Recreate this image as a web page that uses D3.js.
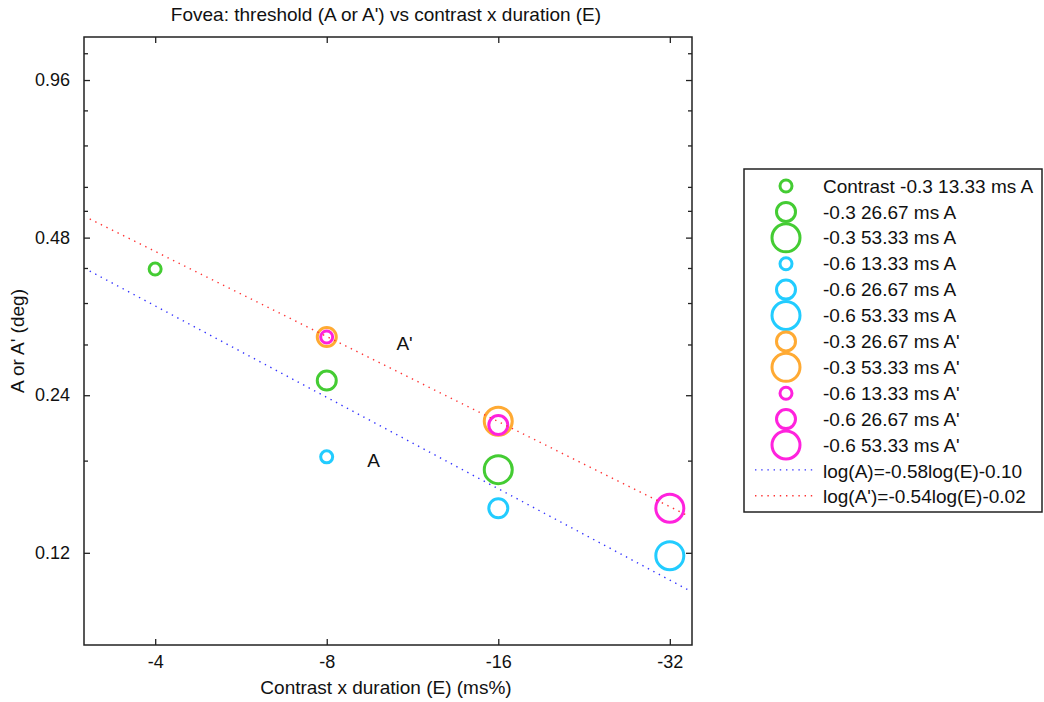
<!DOCTYPE html>
<html>
<head>
<meta charset="utf-8">
<script src="https://cdn.jsdelivr.net/npm/d3@7"></script>
<style>
  html, body { margin: 0; padding: 0; background: #fff; }
  svg { display: block; font-family: "Liberation Sans", Arial, sans-serif; }
</style>
</head>
<body>
<svg id="chart" width="1044" height="702"></svg>
<script>
// Threshold measurements at the fovea
const durations = [13.33, 26.67, 53.33];          // ms
const contrastsA = [-0.3, -0.3, -0.3, -0.6, -0.6, -0.6];
const durationsA = [13.33, 26.67, 53.33, 13.33, 26.67, 53.33];
const thresholdA = [0.418, 0.256, 0.173, 0.183, 0.146, 0.1185];   // deg

const contrastsAp = [-0.3, -0.3, -0.6, -0.6, -0.6];
const durationsAp = [26.67, 53.33, 13.33, 26.67, 53.33];
const thresholdAp = [0.310, 0.214, 0.310, 0.2105, 0.146];        // deg

// Power-law fits: log(T) = slope*log(E) + intercept
const fitNames = ["log(A)=-0.58log(E)-0.10", "log(A')=-0.54log(E)-0.02"];
const fitSlopes = [-0.58, -0.54];
const fitIntercepts = [-0.10, -0.02];
const fitRange = [3.07, 34.4];                   // |E| span of the fitted lines

const xTicks = [4, 8, 16, 32];                   // |E|, labelled negative
const yTicks = [0.12, 0.24, 0.48, 0.96];
const yMinorTicks = [0.18, 0.30, 0.36, 0.42, 0.54, 0.60, 0.72, 0.84, 1.08];

const annotations = [
  { text: "A'", e: 10.6, v: 0.302 },
  { text: "A",  e: 9.42, v: 0.1805 }
];

const colorOf = { "-0.3A": "#44cc33", "-0.6A": "#22ccff", "-0.3A'": "#ffaa33", "-0.6A'": "#ff22dd" };
const radiusOf = d3.scaleOrdinal().domain(durations).range([6, 9.5, 14]);

// build the marker list in legend order
const series = [];
contrastsA.forEach((c, i) => series.push({ c, dur: durationsA[i], v: thresholdA[i], kind: "A" }));
contrastsAp.forEach((c, i) => series.push({ c, dur: durationsAp[i], v: thresholdAp[i], kind: "A'" }));
series.forEach(d => { d.e = Math.abs(d.c * d.dur); d.color = colorOf[d.c + d.kind]; });

const svg = d3.select("#chart");
const M = { left: 84, right: 692, top: 37, bottom: 645 };
const FS = 19;      // titles, labels, legend
const TFS = 18;     // tick labels

const x = d3.scaleLog().domain([3, 35]).range([M.left, M.right]);
const y = d3.scaleLog().domain([0.08, 1.16]).range([M.bottom, M.top]);

// title and axis labels
svg.append("text").attr("x", (M.left + M.right) / 2 - 2).attr("y", 21)
  .attr("text-anchor", "middle").attr("font-size", FS).attr("fill", "#111")
  .text("Fovea: threshold (A or A') vs contrast x duration (E)");
svg.append("text").attr("x", (M.left + M.right) / 2 - 2).attr("y", 694)
  .attr("text-anchor", "middle").attr("font-size", FS).attr("fill", "#111")
  .text("Contrast x duration (E) (ms%)");
svg.append("text")
  .attr("transform", `translate(24,${(M.top + M.bottom) / 2}) rotate(-90)`)
  .attr("text-anchor", "middle").attr("font-size", FS).attr("fill", "#111")
  .text("A or A' (deg)");

// axes with inward ticks
function styleAxis(g) {
  g.select(".domain").remove();
  g.selectAll("line").attr("stroke", "#222").attr("stroke-width", 1.3);
  g.selectAll("text").attr("font-size", TFS).attr("fill", "#111")
    .attr("font-family", "Liberation Sans, Arial, sans-serif");
}
svg.append("g").attr("transform", `translate(0,${M.bottom})`)
  .call(d3.axisBottom(x).tickValues(xTicks).tickSize(-6).tickPadding(10).tickFormat(d => "-" + d))
  .call(styleAxis);
svg.append("g").attr("transform", `translate(0,${M.top})`)
  .call(d3.axisTop(x).tickValues(xTicks).tickSize(-6).tickFormat(""))
  .call(styleAxis);
svg.append("g").attr("transform", `translate(${M.left},0)`)
  .call(d3.axisLeft(y).tickValues(yTicks).tickSize(-6).tickPadding(14).tickFormat(d3.format(".2f")))
  .call(styleAxis);
svg.append("g").attr("transform", `translate(${M.left},0)`)
  .call(d3.axisLeft(y).tickValues(yMinorTicks).tickSize(-4).tickFormat(""))
  .call(styleAxis);
svg.append("g").attr("transform", `translate(${M.right},0)`)
  .call(d3.axisRight(y).tickValues(yTicks).tickSize(-6).tickFormat(""))
  .call(styleAxis);
svg.append("g").attr("transform", `translate(${M.right},0)`)
  .call(d3.axisRight(y).tickValues(yMinorTicks).tickSize(-4).tickFormat(""))
  .call(styleAxis);

svg.append("rect").attr("x", M.left).attr("y", M.top)
  .attr("width", M.right - M.left).attr("height", M.bottom - M.top)
  .attr("fill", "none").attr("stroke", "#222").attr("stroke-width", 1.5);

// data markers
const plot = svg.append("g");
plot.selectAll("circle").data(series).join("circle")
  .attr("cx", d => x(d.e)).attr("cy", d => y(d.v))
  .attr("r", d => radiusOf(d.dur))
  .attr("fill", "none").attr("stroke", d => d.color).attr("stroke-width", 3);

// fitted lines (dotted)
const fitColors = ["#3333ff", "#ff3333"];
const fitLines = fitSlopes.map((s, i) => fitRange.map(e => [e, Math.pow(10, s * Math.log10(e) + fitIntercepts[i])]));
const line = d3.line().x(d => x(d[0])).y(d => y(d[1]));
plot.selectAll("path.fit").data(fitLines).join("path").attr("class", "fit")
  .attr("d", line).attr("fill", "none")
  .attr("stroke", (d, i) => fitColors[i]).attr("stroke-width", 1.4)
  .attr("stroke-dasharray", "1.4 4.8");

// in-plot labels
svg.selectAll("text.note").data(annotations).join("text").attr("class", "note")
  .attr("x", d => x(d.e)).attr("y", d => y(d.v)).attr("dy", "0.35em")
  .attr("font-size", FS).attr("fill", "#111").text(d => d.text);

// legend
const L = { x: 744, y: 169, w: 298, h: 343, row0: 186, step: 25.9, mx: 786, tx: 823 };
const lg = svg.append("g");
lg.append("rect").attr("x", L.x).attr("y", L.y).attr("width", L.w).attr("height", L.h)
  .attr("fill", "#fff").attr("stroke", "#222").attr("stroke-width", 1.5);
const legendItems = series.map((d, i) => ({
  label: (i === 0 ? "Contrast " : "") + `${d.c} ${d.dur.toFixed(2)} ms ${d.kind}`,
  color: d.color, r: radiusOf(d.dur), type: "marker"
})).concat(fitNames.map((n, i) => ({ label: n, color: fitColors[i], type: "line" })));
const rows = lg.selectAll("g.row").data(legendItems).join("g").attr("class", "row")
  .attr("transform", (d, i) => `translate(0,${L.row0 + i * L.step})`);
rows.filter(d => d.type === "marker").append("circle")
  .attr("cx", L.mx).attr("cy", 0).attr("r", d => d.r)
  .attr("fill", "none").attr("stroke", d => d.color).attr("stroke-width", 3);
rows.filter(d => d.type === "line").append("line")
  .attr("x1", 755).attr("x2", 813).attr("y1", -1).attr("y2", -1)
  .attr("stroke", d => d.color).attr("stroke-width", 1.4).attr("stroke-dasharray", "1.4 4.8");
rows.append("text").attr("x", L.tx).attr("y", 0).attr("dy", "0.35em")
  .attr("font-size", FS).attr("fill", "#111").text(d => d.label);
</script>
</body>
</html>
